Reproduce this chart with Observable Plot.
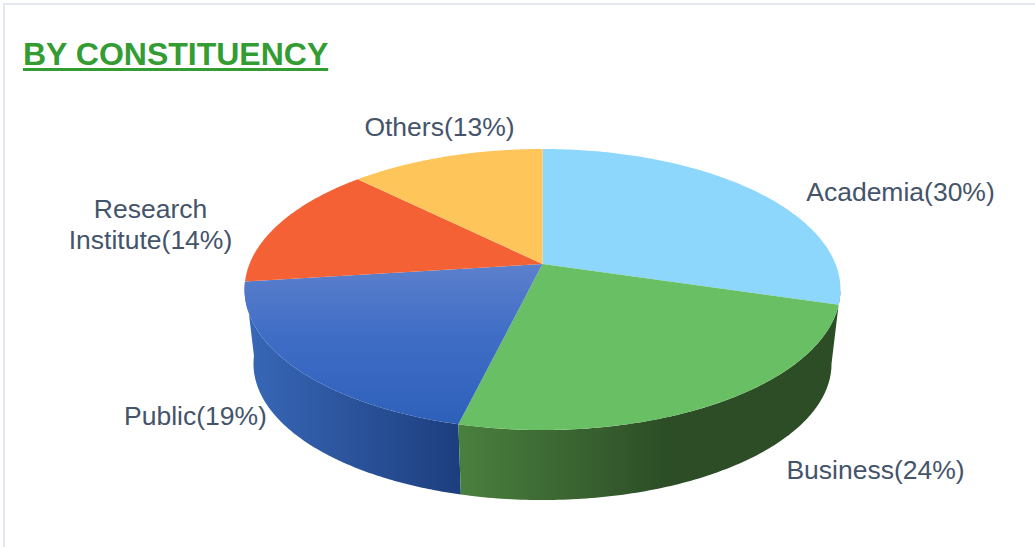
<!DOCTYPE html>
<html>
<head>
<meta charset="utf-8">
<script src="https://cdn.jsdelivr.net/npm/d3@7"></script>
<script src="https://cdn.jsdelivr.net/npm/@observablehq/plot@0.6"></script>
<style>
  html, body { margin: 0; padding: 0; background: #fff; overflow: hidden; }
  #frame { position: absolute; left: 3px; top: 3px; right: 0; bottom: 0; border-left: 2px solid #e4e8ee; border-top: 2px solid #e4e8ee; pointer-events: none; }
  #title { position: relative; height: 90px; box-sizing: border-box; padding: 36px 0 0 23px; font: bold 32px/36px "Liberation Sans", Arial, sans-serif; color: #339c33; text-decoration: underline; text-decoration-thickness: 3px; text-underline-offset: 3px; white-space: nowrap; }
  svg { display: block; }
</style>
</head>
<body>
<div id="frame"></div>
<div id="title">BY CONSTITUENCY</div>
<div id="chart"></div>
<script>
// ---- data ----
const categories = ["Academia", "Business", "Public", "Research Institute", "Others"];
const shares = [29.6, 24.2, 19.2, 14.4, 12.6];
const labels = ["Academia(30%)", "Business(24%)", "Public(19%)", "Research\nInstitute(14%)", "Others(13%)"];

// ---- look ----
const topFills = ["#8dd7fc", "#68bf64", "url(#publicTop)", "#f36135", "#fdc55a"];
const labelPixels = [[900, 191], [875, 469], [195, 415], [150, 223], [439, 126]];
const titleHeight = 90, W = 1035, H = 547 - titleHeight;
const cx = 542, apexY = 263.5, rX = 293, rY = 135.9;
const k = 0.1815;            // perspective of the tilted disc
const s = 0.97;              // lower rim is further away
const drop = 75 / rY;        // thickness of the disc

// perspective projection of a point on the disc
const project = (r, deg) => {
  const t = deg * Math.PI / 180, u = r * Math.sin(t), v = r * Math.cos(t), w = 1 + k * v;
  return [u / w, v / w];
};
const rim = (deg, id) => { const [x, y] = project(1, deg); return {id, x, y}; };
const lowRim = (deg, id) => { const [x, y] = project(1, deg); return {id, x: s * x, y: s * y - drop}; };
const arc = (a, b) => d3.range(0, 121).map(i => a + (b - a) * i / 120);

const cum = d3.cumsum(shares), total = d3.sum(shares);
const angles = categories.map((c, i) => [(i ? cum[i - 1] : 0) / total * 360, cum[i] / total * 360]);

const slice = i => [{id: categories[i], x: 0, y: 0}, ...arc(...angles[i]).map(d => rim(d, categories[i]))];
const wall = (a, b, id) => [...arc(a, b).map(d => rim(d, id)), ...arc(b, a).map(d => lowRim(d, id))];

const tangent = 90 + Math.asin(k) * 180 / Math.PI;
const shape = (pts, fill) => Plot.line(pts, {x: "x", y: "y", fill, stroke: "none", curve: "linear-closed"});

const gradient = (defs, id, horizontal, stops) => {
  const g = defs.append("linearGradient").attr("id", id)
    .attr("x1", 0).attr("y1", 0).attr("x2", horizontal ? 1 : 0).attr("y2", horizontal ? 0 : 1);
  stops.forEach(([o, c]) => g.append("stop").attr("offset", o).attr("stop-color", c));
};
const defsMark = () => {
  const defs = d3.create("svg:defs");
  gradient(defs, "publicTop", false, [[0, "#5c80cc"], [0.45, "#3f6dc6"], [1, "#2e60ba"]]);
  gradient(defs, "publicWall", true, [[0, "#3868b8"], [1, "#1d3e7e"]]);
  gradient(defs, "businessWall", true, [[0, "#4a803e"], [0.55, "#2c4d26"], [1, "#2c4d26"]]);
  return defs.node();
};

const labelData = labels.map((text, i) => ({
  text,
  x: (labelPixels[i][0] - cx) / rX,
  y: (apexY - labelPixels[i][1]) / rY
}));

const plot = Plot.plot({
  width: W, height: H, margin: 0,
  style: {background: "#fff", fontFamily: '"Liberation Sans", Arial, sans-serif'},
  x: {axis: null, domain: [-1, 1], range: [cx - rX, cx + rX]},
  y: {axis: null, domain: [1, -1], range: [apexY - rY - titleHeight, apexY + rY - titleHeight]},
  marks: [
    defsMark,
    shape(wall(angles[1][1], angles[2][1], "PublicWall"), "url(#publicWall)"),
    shape(wall(tangent, angles[1][1], "BusinessWall"), "url(#businessWall)"),
    ...categories.map((c, i) => shape(slice(i), topFills[i])),
    Plot.text(labelData, {x: "x", y: "y", text: "text", fontSize: 26.5, lineHeight: 1.17, fill: "#44546a", textAnchor: "middle", frameAnchor: "middle"})
  ]
});
document.getElementById("chart").appendChild(plot);
</script>
</body>
</html>
